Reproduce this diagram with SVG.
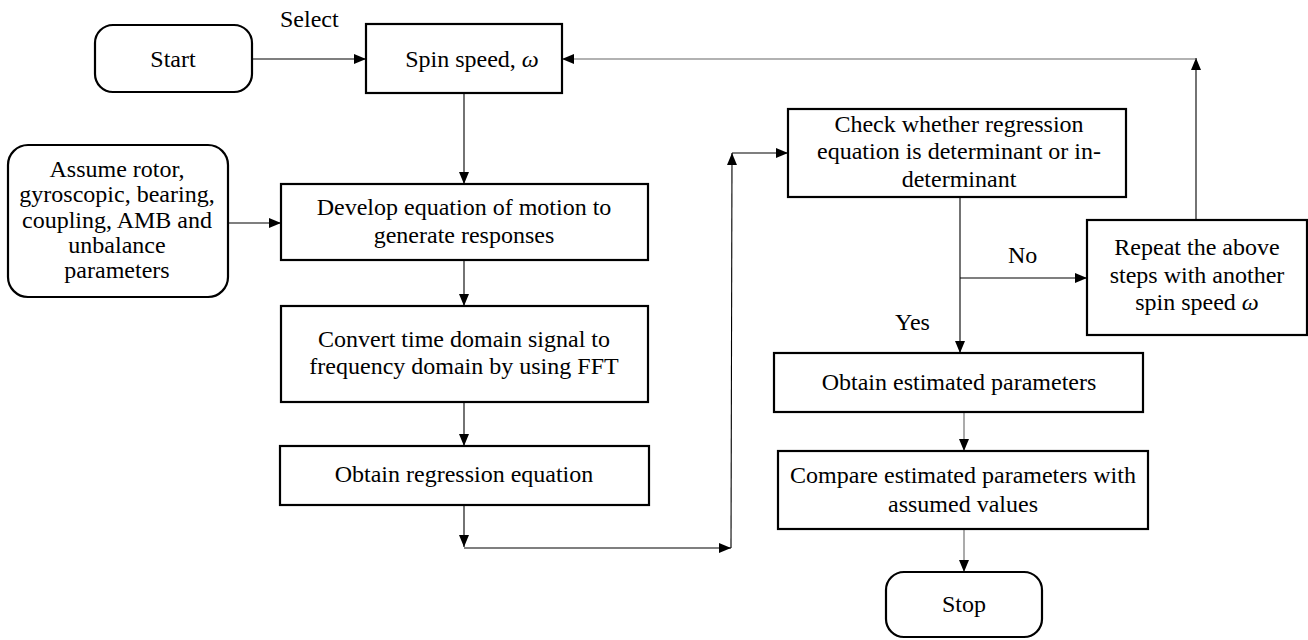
<svg xmlns="http://www.w3.org/2000/svg" width="1308" height="640" viewBox="0 0 1308 640">
<style>
.box{fill:#fff;stroke:#000;stroke-width:2.2}
.t{font-family:"Liberation Serif","Times New Roman",serif;font-size:24px;fill:#000;text-anchor:middle}
.l{font-family:"Liberation Serif","Times New Roman",serif;font-size:24px;fill:#000}
.c{fill:none;stroke:#000;stroke-width:1.1}
.g{fill:none;stroke:#666;stroke-width:1.1}
</style>
<defs>
<marker id="ah" viewBox="0 0 12 10" refX="12" refY="5" markerWidth="12" markerHeight="10" markerUnits="userSpaceOnUse" orient="auto">
<path d="M0,0 L12,5 L0,10 z" fill="#000"/>
</marker>
</defs>
<g id="connectors">
<line class="c" x1="252" y1="59" x2="366" y2="59" marker-end="url(#ah)"/>
<line class="c" x1="228" y1="223" x2="281" y2="223" marker-end="url(#ah)"/>
<line class="c" x1="464" y1="93" x2="464" y2="184" marker-end="url(#ah)"/>
<line class="c" x1="464" y1="260" x2="464" y2="306" marker-end="url(#ah)"/>
<line class="c" x1="464" y1="402" x2="464" y2="446" marker-end="url(#ah)"/>
<line class="c" x1="464" y1="505" x2="464" y2="547" marker-end="url(#ah)"/>
<line class="c" x1="464" y1="548" x2="731" y2="548" marker-end="url(#ah)"/>
<line class="c" x1="731" y1="548" x2="732" y2="153" marker-end="url(#ah)"/>
<line class="c" x1="732" y1="153" x2="788" y2="153" marker-end="url(#ah)"/>
<line class="c" x1="960" y1="197" x2="960" y2="353" marker-end="url(#ah)"/>
<line class="c" x1="960" y1="278" x2="1087" y2="278" marker-end="url(#ah)"/>
<line class="g" x1="964" y1="412" x2="964" y2="451" marker-end="url(#ah)"/>
<line class="g" x1="964" y1="529" x2="964" y2="572" marker-end="url(#ah)"/>
<line class="c" x1="1196" y1="220" x2="1196" y2="58" marker-end="url(#ah)"/>
<line class="g" x1="1196" y1="59" x2="562" y2="59" marker-end="url(#ah)"/>
<text class="l" x="280" y="27">Select</text>
<text class="l" x="1008" y="263">No</text>
<text class="l" x="895" y="330">Yes</text>
</g>
<g id="start">
<rect class="box" x="95" y="25" width="157" height="67" rx="18"/>
<text class="t" x="173" y="67">Start</text>
</g>
<g id="spin">
<rect class="box" x="366" y="24" width="196" height="69"/>
<text class="t" x="472" y="67">Spin speed, <tspan font-style="italic">ω</tspan></text>
</g>
<g id="assume">
<rect class="box" x="8" y="145" width="220" height="152" rx="20"/>
<text class="t" x="117" y="177">Assume rotor,</text>
<text class="t" x="117" y="202">gyroscopic, bearing,</text>
<text class="t" x="117" y="228">coupling, AMB and</text>
<text class="t" x="117" y="253">unbalance</text>
<text class="t" x="117" y="278">parameters</text>
</g>
<g id="develop">
<rect class="box" x="281" y="184" width="367" height="76"/>
<text class="t" x="464" y="215">Develop equation of motion to</text>
<text class="t" x="464" y="243">generate responses</text>
</g>
<g id="convert">
<rect class="box" x="281" y="306" width="367" height="96"/>
<text class="t" x="464" y="347">Convert time domain signal to</text>
<text class="t" x="464" y="374">frequency domain by using FFT</text>
</g>
<g id="regression">
<rect class="box" x="280" y="446" width="369" height="59"/>
<text class="t" x="464" y="482">Obtain regression equation</text>
</g>
<g id="check">
<rect class="box" x="788" y="109" width="338" height="88"/>
<text class="t" x="959" y="132">Check whether regression</text>
<text class="t" x="959" y="159">equation is determinant or in-</text>
<text class="t" x="959" y="187">determinant</text>
</g>
<g id="repeat">
<rect class="box" x="1087" y="220" width="220" height="115"/>
<text class="t" x="1197" y="255">Repeat the above</text>
<text class="t" x="1197" y="283">steps with another</text>
<text class="t" x="1197" y="310">spin speed <tspan font-style="italic">ω</tspan></text>
</g>
<g id="estimated">
<rect class="box" x="774" y="353" width="369" height="59"/>
<text class="t" x="959" y="390">Obtain estimated parameters</text>
</g>
<g id="compare">
<rect class="box" x="778" y="451" width="370" height="78"/>
<text class="t" x="963" y="483">Compare estimated parameters with</text>
<text class="t" x="963" y="512">assumed values</text>
</g>
<g id="stop">
<rect class="box" x="886" y="572" width="156" height="65" rx="18"/>
<text class="t" x="964" y="612">Stop</text>
</g>
</svg>
